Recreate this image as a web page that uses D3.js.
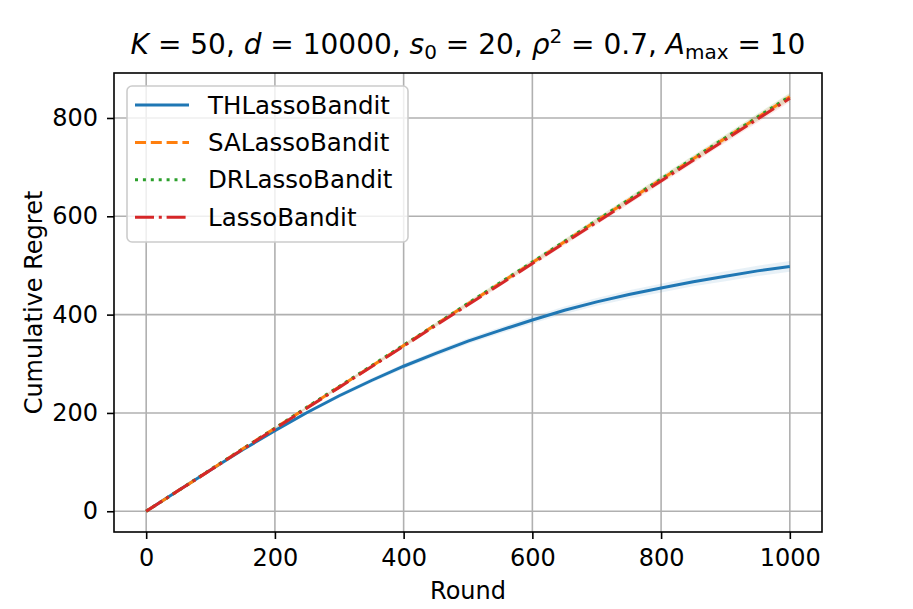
<!DOCTYPE html>
<html>
<head>
<meta charset="utf-8">
<title>Cumulative Regret</title>
<script src="https://d3js.org/d3.v7.min.js"></script>
<style>
  body { margin: 0; background: #fff; }
  svg text { font-family: "DejaVu Sans", sans-serif; fill: #000; }
</style>
</head>
<body>
<script>
// data
const rounds = [0, 50, 100, 150, 200, 250, 300, 350, 400, 450, 500, 550, 600, 650, 700, 750, 800, 850, 900, 950, 1000];
const thLasso = [0, 42, 84, 125, 164, 201, 235, 266, 295, 321, 346, 368, 389, 409, 426, 441, 454, 467, 478, 489, 498];
const thLassoSd = [0, 0.5, 1, 2, 3, 3.5, 4, 4.5, 5, 5.5, 6, 6.5, 7, 7.5, 8, 8.5, 9, 9.5, 10, 10.5, 11];
const saLasso = [0, 42, 84, 127, 169, 211, 253, 295, 337, 380, 422, 464, 506, 548, 591, 633, 675, 717, 759, 801, 843];
const drLasso = [0, 42, 85, 127, 169, 212, 254, 296, 338, 380, 423, 465, 507, 549, 592, 634, 676, 718, 760, 802, 844];
const lasso = [0, 42, 84, 126, 168, 210, 252, 294, 336, 378, 420, 462, 504, 546, 588, 630, 672, 714, 756, 798, 840];
const otherSd = [0, 0.5, 1, 1.5, 2, 2.3, 2.6, 3, 3.3, 3.6, 4, 4.3, 4.6, 5, 5.3, 5.6, 6, 6.3, 6.6, 7, 7.3];
const xTicks = [0, 200, 400, 600, 800, 1000];
const yTicks = [0, 200, 400, 600, 800];

const seriesNames = ["THLassoBandit", "SALassoBandit", "DRLassoBandit", "LassoBandit"];
const seriesValues = [thLasso, saLasso, drLasso, lasso];
const seriesSd = [thLassoSd, otherSd, otherSd, otherSd];
const colors = ["#1f77b4", "#ff7f0e", "#2ca02c", "#d62728"];
const dashes = [null, "11,4.8", "3,4.9", "19,4.8,3,4.8"];

const w = 913, h = 609;
const pLeft = 114, pRight = 822, pTop = 73, pBottom = 532;
const fs = 24;

const svg = d3.select("body").append("svg").attr("width", w).attr("height", h);

const xScale = d3.scaleLinear().domain([-50, 1050]).range([pLeft, pRight]);
const yScale = d3.scaleLinear().domain([-42.2, 891.5]).range([pBottom, pTop]);

// grid
svg.append("g").selectAll("line").data(xTicks).enter().append("line")
    .attr("x1", d => xScale(d)).attr("x2", d => xScale(d))
    .attr("y1", pTop).attr("y2", pBottom)
    .attr("stroke", "#b0b0b0").attr("stroke-width", 1.6);
svg.append("g").selectAll("line").data(yTicks).enter().append("line")
    .attr("y1", d => yScale(d)).attr("y2", d => yScale(d))
    .attr("x1", pLeft).attr("x2", pRight)
    .attr("stroke", "#b0b0b0").attr("stroke-width", 1.6);

// bands and lines
const plot = svg.append("g");
seriesValues.forEach((vals, k) => {
    const sd = seriesSd[k];
    const area = d3.area()
        .x((d, i) => xScale(rounds[i]))
        .y0((d, i) => yScale(d - sd[i]))
        .y1((d, i) => yScale(d + sd[i]));
    plot.append("path").datum(vals).attr("d", area)
        .attr("fill", colors[k]).attr("fill-opacity", 0.1);
});
seriesValues.forEach((vals, k) => {
    const line = d3.line().x((d, i) => xScale(rounds[i])).y(d => yScale(d));
    const p = plot.append("path").datum(vals).attr("d", line)
        .attr("fill", "none").attr("stroke", colors[k]).attr("stroke-width", 3);
    if (dashes[k]) p.attr("stroke-dasharray", dashes[k]);
});

// axes
const xAxis = d3.axisBottom(xScale).tickValues(xTicks).tickSize(7).tickPadding(10).tickFormat(d3.format("d"));
const yAxis = d3.axisLeft(yScale).tickValues(yTicks).tickSize(7).tickPadding(9).tickFormat(d3.format("d"));
const gx = svg.append("g").attr("transform", "translate(0," + pBottom + ")").call(xAxis);
const gy = svg.append("g").attr("transform", "translate(" + pLeft + ",0)").call(yAxis);
[gx, gy].forEach(g => {
    g.select(".domain").remove();
    g.selectAll("line").attr("stroke", "#000").attr("stroke-width", 1.6);
    g.selectAll("text").style("font-size", fs + "px").style("font-family", "DejaVu Sans");
});

// frame
svg.append("rect").attr("x", pLeft).attr("y", pTop)
    .attr("width", pRight - pLeft).attr("height", pBottom - pTop)
    .attr("fill", "none").attr("stroke", "#000").attr("stroke-width", 1.6);

// labels
svg.append("text").attr("x", (pLeft + pRight) / 2).attr("y", 599)
    .attr("text-anchor", "middle").style("font-size", fs + "px").text("Round");
svg.append("text").attr("transform", "translate(42," + (pTop + pBottom) / 2 + ") rotate(-90)")
    .attr("text-anchor", "middle").style("font-size", fs + "px").text("Cumulative Regret");

// title with math style parts: [text, kind, dy]
const title = svg.append("text").attr("x", (pLeft + pRight) / 2).attr("y", 54)
    .attr("text-anchor", "middle").style("font-size", "28px");
const parts = [
    ["K", "i", 0], [" = 50, ", "", 0], ["d", "i", 0], [" = 10000, ", "", 0], ["s", "i", 0], ["0", "s", 5],
    [" = 20, ", "", -5], ["\u03c1", "i", 0], ["2", "s", -11], [" = 0.7, ", "", 11], ["A", "i", 0], ["max", "s", 5], [" = 10", "", -5]
];
parts.forEach(([t, kind, dy]) => {
    const s = title.append("tspan").text(t).attr("dy", dy);
    if (kind === "i") s.style("font-style", "italic");
    if (kind === "s") s.style("font-size", "20px");
});

// legend
const lg = svg.append("g");
lg.append("rect").attr("x", 127).attr("y", 86).attr("width", 281).attr("height", 156)
    .attr("rx", 5).attr("fill", "#fff").attr("fill-opacity", 0.8)
    .attr("stroke", "#cccccc").attr("stroke-width", 1.6);
seriesNames.forEach((name, k) => {
    const yy = 105 + k * 37.4;
    const l = lg.append("line").attr("x1", 135).attr("x2", 189).attr("y1", yy).attr("y2", yy)
        .attr("stroke", colors[k]).attr("stroke-width", 3);
    if (dashes[k]) l.attr("stroke-dasharray", dashes[k]);
    lg.append("text").attr("x", 208).attr("y", yy + 8.5).style("font-size", "24.5px").text(name);
});
</script>
</body>
</html>
